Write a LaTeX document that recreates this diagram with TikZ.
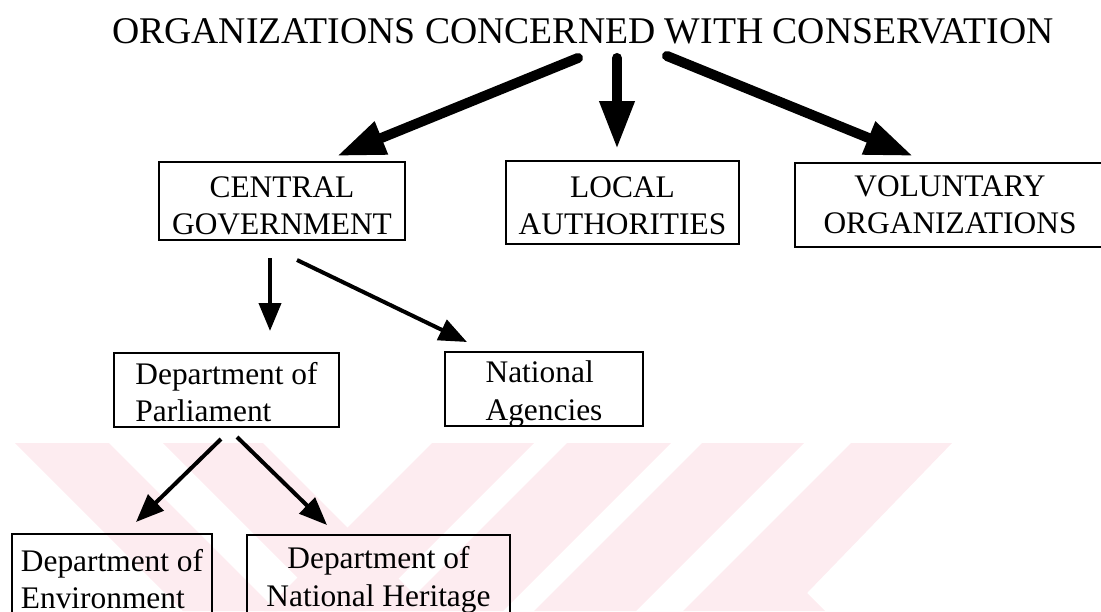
\documentclass[tikz,border=0pt]{standalone}
\usepackage{fontspec}
\setmainfont{Liberation Serif}
\usepackage{tikz}
\usetikzlibrary{arrows.meta,calc}
\definecolor{wmpink}{RGB}{253,236,240}
\newcommand{\topstrut}[1]{\rule{0pt}{#1}}
\tikzset{
  box/.style={shape=rectangle, draw=black, line width=1pt, inner sep=2pt,
    font=\fontsize{15.7}{18.7}\selectfont},
  bigarrow/.style={line width=5pt, line cap=round, -{Triangle[length=24pt,width=16.5pt]}},
  smallarrow/.style={line width=2pt, -{Triangle[length=14pt,width=11pt]}},
  band/.style={fill=wmpink, draw=none}
}

\begin{document}
\begin{tikzpicture}[x=0.5pt,y=-0.5pt]
\useasboundingbox (0,0) rectangle (1101,611);
\fill[band] (15,443) -- (109,443) -- (277,611) -- (183,611) -- cycle;
\fill[band] (163,443) -- (263,443) -- (431,611) -- (331,611) -- cycle;
\fill[band] (432,443) -- (534,443) -- (366,611) -- (264,611) -- cycle;
\fill[band] (567,443) -- (671,443) -- (503,611) -- (399,611) -- cycle;
\fill[band] (702,443) -- (804,443) -- (636,611) -- (534,611) -- cycle;
\fill[band] (851,443) -- (952,443) -- (807,593) -- (825,611) -- (683,611) -- cycle;

\node[inner sep=0pt, anchor=base, font=\fontsize{18.85}{22}\selectfont](title) at (583,43) {ORGANIZATIONS CONCERNED WITH CONSERVATION};
\node[box, minimum width=123pt, minimum height=39pt, align=center](cg) at (282,201) {\topstrut{15.3pt}CENTRAL\\GOVERNMENT};
\node[box, minimum width=116.5pt, minimum height=41.5pt, align=center](la) at (622.5,202.5) {\topstrut{13.8pt}LOCAL\\AUTHORITIES};
\node[box, minimum width=155pt, minimum height=42pt, align=center](vo) at (950,205) {VOLUNTARY\\ORGANIZATIONS};
\node[box, minimum width=112.5pt, minimum height=37pt, align=left](dp) at (226.5,390) {\topstrut{13.3pt}Department of\\Parliament};
\node[box, minimum width=99pt, minimum height=37pt, align=left](na) at (544,389) {\topstrut{12.3pt}National\\\smash{Agencies}};
\node[box, minimum width=100pt, minimum height=45pt, align=left](de) at (112,579) {Department of\\Environment};
\node[box, minimum width=131.5pt, minimum height=45pt, align=center](dnh) at (378.5,580) {Department of\\National Heritage};

\draw[bigarrow] ($(title.south)+(-5,14)$) -- ($(cg.north)+(55,-5)$);
\draw[bigarrow] ($(title.south)+(34,14)$) -- ($(la.north)+(-5.5,-11)$);
\draw[bigarrow] ($(title.south)+(84,12)$) -- ($(vo.north)+(-37,-6)$);
\draw[smallarrow] ($(cg.south)+(-12,17)$) -- ($(dp.north)+(43.5,-21)$);
\draw[smallarrow] ($(cg.south)+(15,19)$) -- ($(na.north)+(-77,-9)$);
\draw[smallarrow] ($(dp.south)+(-5.5,11)$) -- ($(de.north)+(24,-11)$);
\draw[smallarrow] ($(dp.south)+(10.5,9)$) -- ($(dnh.north)+(-51.5,-9)$);
\end{tikzpicture}
\end{document}
